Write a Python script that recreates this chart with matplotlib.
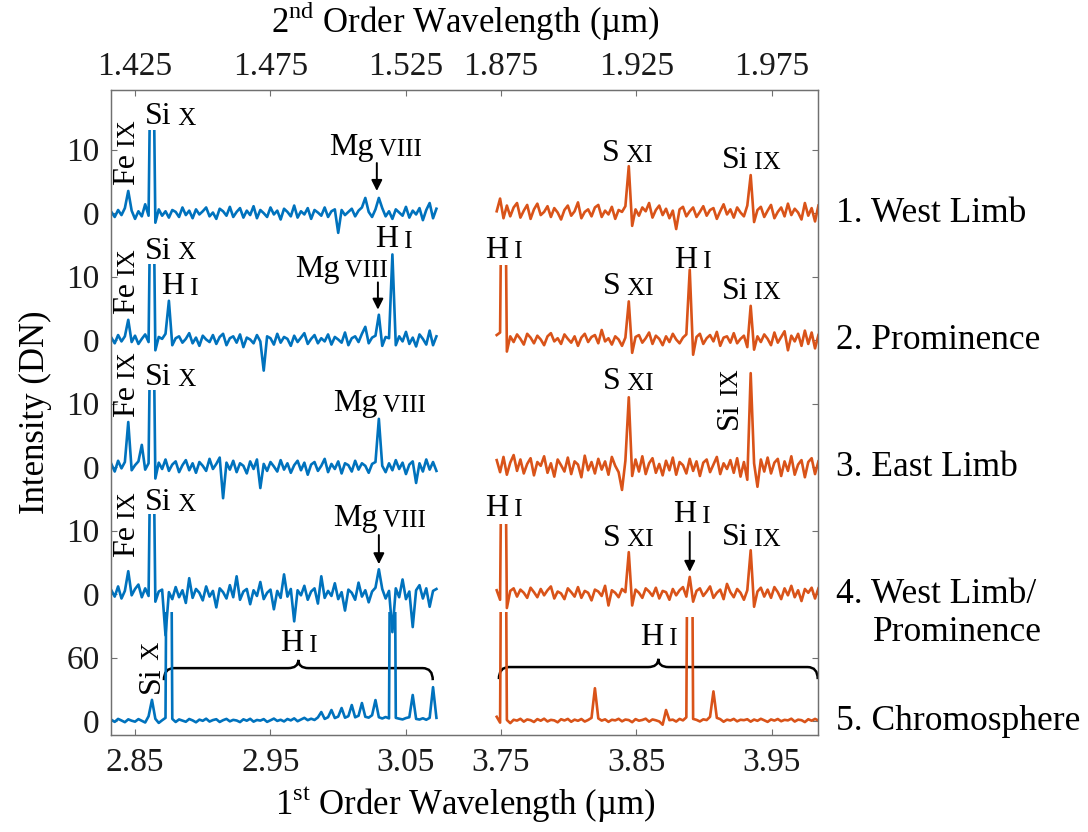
import numpy as np
import matplotlib
matplotlib.use('Agg')
import matplotlib.pyplot as plt
import matplotlib.transforms as mtransforms
from matplotlib.path import Path
from matplotlib.patches import PathPatch

plt.rcParams['font.family'] = ['Liberation Serif', 'DejaVu Serif']
plt.rcParams['mathtext.fontset'] = 'custom'
plt.rcParams['mathtext.rm'] = 'Liberation Serif'

# wavelength sampling of the two spectral windows (1st order, um)
lam_a = np.linspace(2.8325, 3.0725, 97)
lam_b = np.linspace(3.747, 3.9845, 96)

# intensities (DN) per observation, window a then window b
west_limb_a = [
    0.2, -0.6, 0.5, -0.3, 0.8, 3.5, 0.4, -0.9, 0.3, -0.5,
    1.4, -0.4, 45.0, -1.5, 0.6, -0.4, 0.3, -0.7, 0.5, 0.2,
    -0.6, 0.9, -0.3, 0.4, -0.8, 0.6, -0.2, 0.3, 0.9, -0.5,
    0.1, -0.9, 0.7, 0.3, -0.4, 1.0, -0.6, 0.2, 0.8, -0.7,
    0.4, -0.3, 1.1, -0.8, 0.5, 0.0, -0.6, 0.9, -0.2, 0.4,
    -1.0, 0.7, 0.2, -0.5, 1.2, -0.7, 0.3, -0.2, 0.8, -0.9,
    0.5, 0.1, -0.4, 0.9, -0.6, 0.3, 0.6, -3.1, 0.5, -0.3,
    0.2, 0.7, -0.5, 0.4, 0.9, 2.4, 0.2, -0.6, 0.6, 2.4,
    0.8, -0.5, 0.3, -0.9, 0.6, 0.1, -0.4, 1.0, -0.7, 0.4,
    -0.2, 0.8, -1.1, 0.5, 1.6, -0.8, 0.7]
west_limb_b = [
    0.3, 2.3, -0.8, 1.2, -0.5, 0.9, 1.6, -0.7, 0.4, 1.3,
    -0.9, 0.6, 1.5, -0.3, 0.2, 1.1, -0.6, 0.8, 0.1, -1.0,
    0.5, 1.2, -0.4, 0.3, 1.7, -0.8, 0.2, 0.6, -0.5, 0.9,
    1.3, -0.6, 0.4, -0.2, 1.0, -0.9, 0.5, 0.2, 1.1, 7.4,
    -2.0, 0.6, -0.4, 0.9, 0.3, 1.6, -0.7, 0.5, 1.2, -0.3,
    0.7, -0.8, 0.4, -2.5, 0.6, 1.0, -0.5, 0.3, 0.9, -0.6,
    0.2, 1.1, -0.4, 0.5, 0.8, -0.9, 0.3, 1.4, -0.2, 0.6,
    -0.7, 0.9, 0.1, -0.5, 1.2, 6.0, -1.4, 0.5, 1.0, -0.6,
    0.4, 1.3, -0.8, 0.2, 0.9, -0.5, 1.5, -0.3, 0.7, 0.1,
    -1.0, 1.6, -0.4, 0.8, -1.3, 1.2]

prominence_a = [
    0.4, -0.5, 0.8, -0.2, 0.6, 3.2, -0.3, 0.7, -0.6, 0.2,
    0.9, -0.3, 45.0, -1.6, 0.5, 0.2, 1.0, 6.2, -0.8, 0.3,
    0.6, -0.4, 0.2, 1.1, -0.5, 0.4, -0.9, 0.7, 0.1, -0.3,
    0.8, -0.6, 0.5, 1.0, -0.8, 0.3, 0.6, -0.4, 0.9, -1.1,
    0.4, 0.1, -0.5, 0.8, -0.2, -4.8, 0.6, 0.3, -0.7, 1.0,
    -0.4, 0.5, 0.2, -0.9, 0.7, -0.3, 0.4, 1.1, -0.6, 0.2,
    0.8, -0.5, 0.3, -0.2, 0.9, -0.7, 0.5, 0.1, -0.4, 1.2,
    -0.8, 0.3, 0.6, -0.3, 1.0, 2.1, -0.5, 0.4, 0.7, 4.0,
    -0.9, 0.5, 0.3, 13.5, -0.8, 0.6, -0.2, 1.3, -0.6, 0.4,
    -1.0, 0.9, 0.2, -0.7, 1.5, -0.8, 0.6]
prominence_b = [
    0.8, 1.2, 60.0, -1.8, 0.6, -0.3, 0.9, 0.2, -0.7, 1.0,
    0.4, -0.5, 0.7, 0.1, -0.8, 0.6, 1.1, -0.2, 0.3, -0.6,
    0.9, 0.2, -0.4, 0.6, -0.9, 0.4, 1.0, -0.3, 0.5, 0.8,
    -0.5, 1.6, -0.2, 0.3, -0.7, 0.6, 0.1, -0.9, 0.4, 6.1,
    -2.0, 0.5, 0.8, -0.4, 0.3, 1.2, -0.6, 0.7, 0.2, -0.8,
    0.6, -0.3, 1.0, 0.1, -0.5, 0.4, 0.9, 11.1, -2.3, 0.5,
    1.0, -0.6, 0.3, 0.8, -0.2, 1.3, -0.9, 0.4, 0.6, -0.4,
    1.1, -0.5, 0.2, 0.7, -1.1, 5.4, -1.5, 0.6, -0.3, 0.9,
    0.2, -0.8, 1.2, -0.4, 0.5, 1.4, -1.6, 0.7, -0.2, 1.0,
    -0.9, 1.5, -0.6, 1.2, -1.3, 0.8]

east_limb_a = [
    0.5, -0.7, 1.0, -0.2, 0.8, 7.1, -0.5, 0.3, 0.9, 3.5,
    -0.4, 0.6, 45.0, -1.8, 0.7, -0.3, 1.2, -0.6, 0.4, 0.9,
    -0.8, 0.3, 1.1, -0.5, 0.6, -0.9, 0.8, 0.2, -0.6, 1.3,
    -0.3, 0.5, 1.5, -4.9, 0.7, -0.4, 1.0, -0.8, 0.6, 0.2,
    -1.0, 0.9, -0.3, 1.2, -3.3, 0.5, -0.6, 0.8, 0.1, -0.7,
    1.1, -0.4, 0.6, -0.9, 0.3, 1.0, -0.5, 0.7, -1.2, 0.4,
    0.8, -0.6, 0.2, 1.3, -0.8, 0.5, -0.3, 0.9, -1.0, 0.6,
    0.3, -0.7, 1.0, -0.4, 0.6, 0.2, -0.9, 0.5, 0.8, 7.6,
    0.2, -0.8, 0.6, -0.5, 1.1, -0.3, 0.7, -1.1, 0.4, 0.9,
    -2.5, 0.6, -0.7, 1.2, -0.4, 0.8, -0.6]
east_limb_b = [
    1.1, -0.8, 1.6, -1.2, 0.7, 1.9, -0.6, 1.2, -1.0, 0.5,
    1.4, -1.3, 0.8, 0.2, 1.7, -0.9, 0.6, -1.5, 1.2, 0.3,
    -0.7, 1.5, -1.1, 0.9, 0.4, -1.6, 1.8, -0.5, 0.8, -1.0,
    1.3, -0.4, 0.9, -1.2, 1.6, 0.2, -0.8, -3.6, 1.0, 11.0,
    -1.4, 1.2, -0.7, 1.7, -1.1, 0.6, 1.4, -0.9, 0.5, -1.3,
    1.0, -0.5, 1.5, -1.2, 0.8, 0.3, -1.0, 1.3, -0.6, 0.9,
    -1.4, 0.7, 1.2, -0.8, 0.4, 1.6, -1.1, 0.6, -0.3, 1.1,
    -0.9, 1.4, -1.5, 0.8, -2.0, 14.8, 0.6, -3.1, 1.2, -0.7,
    1.5, -1.0, 0.7, 1.3, -1.4, 0.9, -0.6, 1.7, -1.2, 0.4,
    1.1, -1.6, 0.8, 1.4, -1.1, 0.9]

limb_prom_a = [
    0.6, -0.4, 1.2, -0.7, 0.5, 3.6, -0.2, 0.8, 1.5, -0.5,
    0.9, -0.3, 45.0, -1.2, 0.4, 0.7, -6.5, 0.3, -0.8, 1.1,
    -0.5, 0.6, -1.4, 2.5, -0.6, 0.8, 0.2, -1.0, 1.2, -0.4,
    0.5, -2.1, 0.9, 0.3, -0.7, 1.4, -0.5, 2.8, -0.9, 0.4,
    0.8, -1.6, 0.6, -0.3, 1.9, -0.8, 0.2, 0.7, -2.4, 0.5,
    -0.6, 3.1, -0.4, 0.8, -4.3, 0.6, -0.2, 1.3, -0.9, 0.4,
    0.9, -1.5, 2.8, -0.6, 0.5, -0.3, 1.7, -0.8, 0.3, -2.6,
    0.7, 0.2, -0.9, 1.8, -0.4, 0.6, -1.3, 0.4, 1.0, 3.9,
    0.8, -0.7, 0.5, -6.0, 0.9, -0.5, 2.3, -0.8, 0.4, -5.2,
    0.6, 1.4, -0.7, 0.9, -2.0, 0.5, 0.8]
limb_prom_b = [
    0.6, -0.9, 60.0, -2.2, 0.5, 0.9, -0.4, 0.7, 0.2, -0.6,
    1.0, 0.3, -0.5, 0.8, -0.2, 0.6, 1.2, -0.7, 0.4, 0.1,
    -0.8, 0.9, 0.3, -0.4, 1.1, -0.6, 0.5, 0.2, -1.0, 0.7,
    0.4, -0.3, 1.3, -1.8, 0.6, 0.2, -0.5, 0.8, 0.3, 6.6,
    -1.8, 0.7, 0.2, -0.6, 0.9, 0.4, -0.3, 1.0, -0.7, 0.5,
    0.3, -0.9, 0.8, -0.2, 0.6, 1.1, -0.4, 2.7, -1.2, 0.5,
    0.9, -0.3, 0.4, 1.2, -0.6, 0.2, 0.7, -0.8, 1.6, 0.3,
    -0.5, 0.8, 0.2, -0.9, 0.6, 6.9, -2.0, 0.4, 1.0, -0.4,
    0.7, -0.6, 1.1, 0.3, -0.8, 0.9, -0.2, 1.3, -0.5, 0.6,
    -1.1, 0.8, 0.2, 1.0, -0.7, 0.9]

chromosphere_a = [
    1.2, -0.8, 2.0, 0.5, -1.1, 1.6, 0.3, -0.6, 1.8, 0.2,
    -1.4, 4.5, 20.0, 2.1, -1.8, 0.7, 3.0, 600.0, 2.0, -0.9,
    1.5, 0.4, -0.7, 1.9, 0.6, -1.2, 1.3, 0.2, 2.2, -0.5,
    0.9, 1.7, -0.9, 0.8, 2.0, -0.3, 1.1, 0.5, -1.0, 1.6,
    0.3, 2.1, -0.6, 1.0, 0.4, 1.8, -0.8, 0.7, 2.3, 0.1,
    1.2, -0.4, 1.9, 0.6, 2.5, -0.2, 1.4, 3.0, 0.8, 2.2,
    1.0, 3.4, 8.5, 2.0, 3.6, 10.4, 2.8, 4.2, 12.3, 3.1,
    4.6, 15.1, 3.5, 5.0, 17.0, 4.0, 3.2, 5.5, 19.8, 3.6,
    2.4, 3.8, 2.5, 600.0, 3.0, 2.2, 1.5, 2.8, 3.6, 24.6,
    2.0, 1.4, 2.6, 1.2, 3.0, 32.0, 3.0]
chromosphere_b = [
    4.0, -1.5, 600.0, 1.0, -2.0, 1.2, 0.4, 2.1, -0.6, 1.5,
    0.8, -0.9, 1.8, 0.3, 2.2, -0.4, 1.1, 0.6, -1.2, 1.7,
    0.5, 2.0, -0.7, 1.3, 0.2, 1.9, -0.5, 1.0, 3.0, 31.0,
    2.5, 0.4, 1.6, -0.8, 1.2, 0.6, 2.1, -0.3, 1.4, 0.9,
    -1.1, 1.8, 0.3, 1.0, 2.2, -0.6, 1.5, 0.7, -0.4, -3.5,
    10.4, 0.8, 1.3, -0.5, 2.0, 0.6, 3.5, 600.0, 2.0, 1.1,
    -0.4, 1.6, 0.9, 4.0, 28.0, 3.0, 1.8, -0.7, 1.3, 0.5,
    2.0, -0.3, 1.2, 0.8, 1.7, -0.6, 1.4, 0.2, 2.1, 0.7,
    -0.8, 1.5, 0.4, 1.9, -0.2, 1.1, 0.6, 2.2, -0.5, 1.3,
    0.8, -1.0, 1.7, 0.3, 2.0, 0.5]

spectra_a = [west_limb_a, prominence_a, east_limb_a, limb_prom_a, chromosphere_a]
spectra_b = [west_limb_b, prominence_b, east_limb_b, limb_prom_b, chromosphere_b]

panel_names = ['1. West Limb', '2. Prominence', '3. East Limb',
               '4. West Limb/', '5. Chromosphere']
panel_offset = [80, 60, 40, 20, 0]
panel_scale = [1, 1, 1, 1, 1 / 6]
panel_tick = [10, 10, 10, 10, 60]

# saturated lines are cut off at these levels (um, DN)
cut_levels = [
    [(2.8625, 13.1)],
    [(2.8625, 12.0), (3.752, 11.9)],
    [(2.8625, 12.1)],
    [(2.8625, 12.6), (3.752, 11.0)],
    [(2.875, 103), (3.04, 103), (3.752, 103), (3.8895, 98)],
]

# line identifications: panel, wavelength, DN, element, ion
line_ids = [
    (0, 2.8573, 14.0, 'Si', 'X'), (0, 2.9931, 9.1, 'Mg', 'VIII'),
    (0, 3.8246, 8.2, 'S', 'XI'), (0, 3.9131, 7.1, 'Si', 'IX'),
    (1, 2.8573, 12.8, 'Si', 'X'), (1, 2.8691, 7.2, 'H', 'I'),
    (1, 2.9680, 10.0, 'Mg', 'VIII'), (1, 3.0271, 14.6, 'H', 'I'),
    (1, 3.7382, 13.0, 'H', 'I'), (1, 3.8253, 7.2, 'S', 'XI'),
    (1, 3.8777, 11.4, 'H', 'I'), (1, 3.9131, 6.5, 'Si', 'IX'),
    (2, 2.8573, 12.9, 'Si', 'X'), (2, 2.9961, 8.8, 'Mg', 'VIII'),
    (2, 3.8253, 12.3, 'S', 'XI'),
    (3, 2.8573, 13.2, 'Si', 'X'), (3, 2.9961, 10.7, 'Mg', 'VIII'),
    (3, 3.7382, 12.3, 'H', 'I'), (3, 3.8253, 7.6, 'S', 'XI'),
    (3, 3.8770, 11.3, 'H', 'I'), (3, 3.9131, 7.7, 'Si', 'IX'),
    (4, 2.9569, 66, 'H', 'I'), (4, 3.8526, 72, 'H', 'I'),
]
vertical_ids = [
    (0, 2.8440, 4.4, 'Fe', 'IX'), (1, 2.8440, 4.1, 'Fe', 'IX'),
    (2, 2.8440, 7.9, 'Fe', 'IX'), (3, 2.8440, 5.8, 'Fe', 'IX'),
    (2, 3.9190, 6.0, 'Si', 'IX'), (4, 2.8617, 26.5, 'Si', 'X'),
]
arrows = [(0, 3.0285, 7.9, 3.5), (1, 3.0293, 9.1, 4.8),
          (3, 3.0300, 9.3, 4.7), (3, 3.8895, 9.8, 3.5)]
# H I series brackets in the chromosphere spectrum: start, end, DN
brackets = [(2.8713, 3.0698, 50), (3.7486, 3.9840, 51)]

first_order_ticks = [2.85, 2.95, 3.05, 3.75, 3.85, 3.95]

SHIFT = 0.63  # window b is drawn shifted left to close the gap
BLUE = '#0072BD'
ORANGE = '#D95319'
GREY = '#707070'
ELEM_SIZE, ION_SIZE = 23, 18


def xp(lam):
    lam = np.asarray(lam, dtype=float)
    return np.where(lam > 3.4, lam - SHIFT, lam)


def yp(k, dn):
    return panel_offset[k] + panel_scale[k] * np.asarray(dn, dtype=float)


fig = plt.figure(figsize=(10.88, 8.32), dpi=100)
ax = fig.add_axes([0.1017, 0.1166, 0.6504, 0.7752])
ax.set_xlim(2.832, 3.3544)
ax.set_ylim(-2.2, 99.4)


def clip_saturated(line, k, lo, hi):
    x0, x1 = float(xp(lo)) - 1, float(xp(hi)) + 1
    verts = [(x0, -1e3), (x1, -1e3), (x1, 1e3)]
    for lam_c, level in sorted(cut_levels[k], reverse=True):
        if lo <= lam_c <= hi:
            xc, yc = float(xp(lam_c)), float(yp(k, level))
            verts += [(xc + 0.004, 1e3), (xc + 0.004, yc),
                      (xc - 0.004, yc), (xc - 0.004, 1e3)]
    verts += [(x0, 1e3), (x0, -1e3)]
    line.set_clip_path(Path(verts, closed=True), ax.transData)


for k in range(5):
    la, = ax.plot(xp(lam_a), yp(k, spectra_a[k]), color=BLUE, lw=1.9)
    clip_saturated(la, k, lam_a[0], lam_a[-1])
    lb, = ax.plot(xp(lam_b), yp(k, spectra_b[k]), color=ORANGE, lw=1.9)
    clip_saturated(lb, k, lam_b[0], lam_b[-1])


def ion_label(x, y, elem, ion, vertical=False):
    shift = 0.216 * (ELEM_SIZE - ION_SIZE)
    if vertical:
        t = ax.text(x, y, elem, fontsize=ELEM_SIZE, rotation=90,
                    ha='center', va='bottom')
        ax.annotate(' ' + ion, xy=(1, 1), xycoords=t, xytext=(-shift, 0),
                    textcoords='offset points', fontsize=ION_SIZE, rotation=90,
                    ha='right', va='bottom')
    else:
        t = ax.text(x, y, elem, fontsize=ELEM_SIZE, ha='left', va='baseline')
        ax.annotate(' ' + ion, xy=(1, 0), xycoords=t, xytext=(0, shift),
                    textcoords='offset points', fontsize=ION_SIZE,
                    ha='left', va='bottom')


for k, lam, dn, elem, ion in line_ids:
    ion_label(float(xp(lam)), float(yp(k, dn)), elem, ion)
for k, lam, dn, elem, ion in vertical_ids:
    ion_label(float(xp(lam)), float(yp(k, dn)), elem, ion, vertical=True)

for k, lam, dn0, dn1 in arrows:
    x = float(xp(lam))
    ax.annotate('', xy=(x, float(yp(k, dn1))), xytext=(x, float(yp(k, dn0))),
                arrowprops=dict(arrowstyle='-|>', color='k', lw=1.4,
                                mutation_scale=16, shrinkA=0, shrinkB=0))

# curly brackets over the hydrogen lines
for lo, hi, dn in brackets:
    x0, x1, y = float(xp(lo)), float(xp(hi)), float(yp(4, dn))
    xm = (x0 + x1) / 2
    r, d, h = 0.0075, 1.9, 1.3
    verts = [(x0, y - d), (x0, y), (x0 + r, y), (xm - r, y), (xm, y),
             (xm, y + h), (xm, y), (xm + r, y), (x1 - r, y), (x1, y),
             (x1, y - d)]
    codes = [Path.MOVETO, Path.CURVE3, Path.CURVE3, Path.LINETO, Path.CURVE3,
             Path.CURVE3, Path.CURVE3, Path.CURVE3, Path.LINETO, Path.CURVE3,
             Path.CURVE3]
    ax.add_patch(PathPatch(Path(verts, codes), fill=False, ec='k', lw=1.8))

# y ticks: zero and one reference level per spectrum
ytick_pos, ytick_lab = [], []
for k in range(5):
    ytick_pos += [float(yp(k, 0)), float(yp(k, panel_tick[k]))]
    ytick_lab += ['0', str(panel_tick[k])]
ax.set_yticks(ytick_pos, ytick_lab)

ax.set_xticks(xp(first_order_ticks), ['%.2f' % v for v in first_order_ticks])
ax.tick_params(direction='in', length=4.5, width=0.8, color=GREY,
               labelsize=24, labelcolor='#1a1a1a', right=True, top=False)
ax.tick_params(axis='x', pad=9)
ax.tick_params(axis='y', pad=8)

ax2 = ax.twiny()
ax2.set_xlim(ax.get_xlim())
ax2.set_xticks(xp(first_order_ticks), ['%.3f' % (v / 2) for v in first_order_ticks])
ax2.tick_params(direction='in', length=4.5, width=0.8, color=GREY,
                labelsize=24, labelcolor='#1a1a1a', pad=6)
for a in (ax, ax2):
    for s in a.spines.values():
        s.set_color(GREY)
        s.set_linewidth(0.9)

# spectrum names on the right
trans = mtransforms.blended_transform_factory(fig.transFigure, ax.transData)
for k, name in enumerate(panel_names):
    ax.text(836 / 1088, panel_offset[k], name, transform=trans,
            fontsize=25.5, ha='left', va='center')
ax.annotate('Prominence', xy=(873 / 1088, panel_offset[3]), xycoords=trans,
            xytext=(0, -28), textcoords='offset points',
            fontsize=25.5, ha='left', va='center')

fig.text(465 / 1088, 1 - 21 / 832, '2$^{\\mathrm{nd}}$ Order Wavelength (µm)',
         fontsize=25, ha='center', va='center')
fig.text(465 / 1088, 1 - 805 / 832, '1$^{\\mathrm{st}}$ Order Wavelength (µm)',
         fontsize=25, ha='center', va='center')
fig.text(35 / 1088, 1 - 412 / 832, 'Intensity (DN)', rotation=90,
         fontsize=25, ha='center', va='center')

fig.savefig('out.png', dpi=100)
